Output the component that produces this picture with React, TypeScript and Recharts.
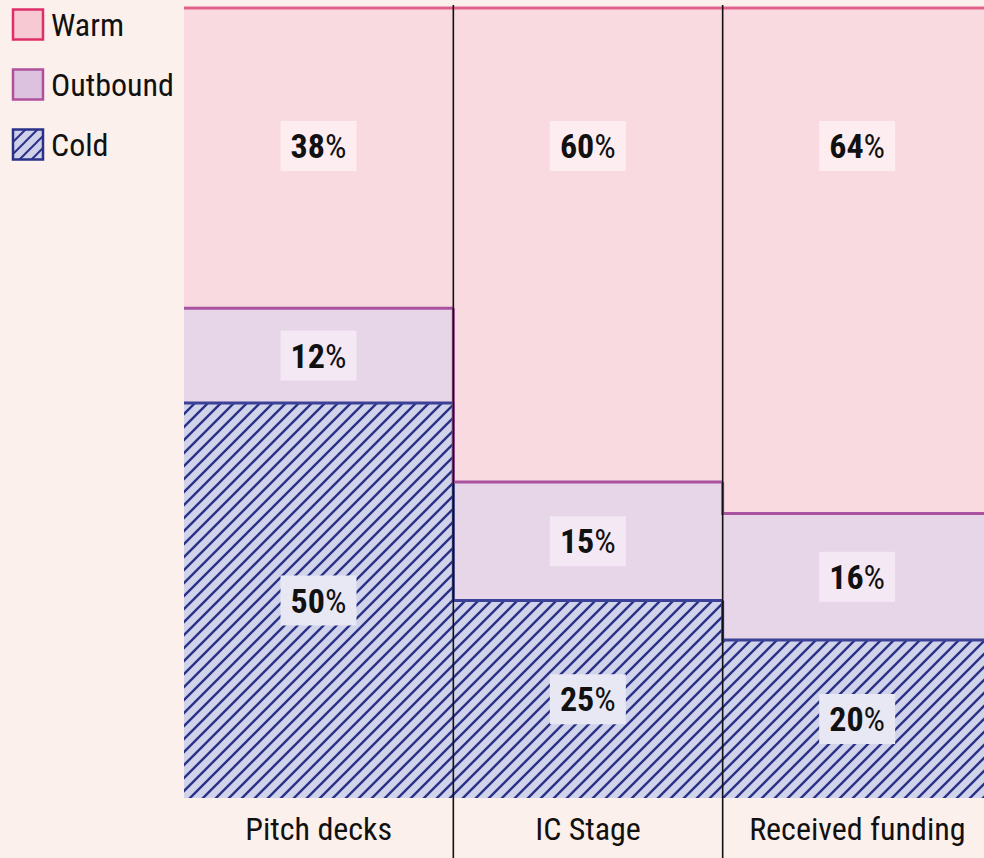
import { Bar, BarChart, LabelList, Legend, XAxis, YAxis } from "recharts";

const categories = ["Pitch decks", "IC Stage", "Received funding"];
const warmValues = [38, 60, 64];
const outboundValues = [12, 15, 16];
const coldValues = [50, 25, 20];

const BG = "#fcf0ec";
const FONT = '"Liberation Sans Narrow", "Roboto Condensed", "Arial Narrow", "Liberation Sans", sans-serif';
const WARM_FILL = "#f9dae0";
const WARM_STROKE = "#e2608c";
const OUT_FILL = "#e7d5e8";
const OUT_STROKE = "#a9529f";
const COLD_STROKE = "#3b4196";
const HATCH_BG = "#d1d3eb";
const HATCH_LINE = "#2a3288";

const data = categories.map((name, i) => ({
  name,
  cold: coldValues[i],
  outbound: outboundValues[i],
  warm: warmValues[i],
}));

function FillShape(props: any) {
  const { x, y, width, height, fill } = props;
  return <rect x={x} y={y} width={width} height={height} fill={fill} />;
}

// warm is drawn last, so it carries every boundary line of its column
function WarmShape(props: any) {
  const { x, y, width, height, index } = props;
  const k = height / warmValues[index];
  const bottom = y + height + (outboundValues[index] + coldValues[index]) * k;
  const outTop = bottom - (outboundValues[index] + coldValues[index]) * k;
  const coldTop = bottom - coldValues[index] * k;
  const prevOutTop =
    index > 0 ? bottom - (outboundValues[index - 1] + coldValues[index - 1]) * k : outTop;
  const prevColdTop = index > 0 ? bottom - coldValues[index - 1] * k : coldTop;
  return (
    <g>
      <rect x={x} y={y} width={width} height={height} fill={WARM_FILL} />
      <line x1={x} x2={x + width} y1={y} y2={y} stroke={WARM_STROKE} strokeWidth={3} />
      <path
        d={`M${x},${prevColdTop} L${x},${coldTop} L${x + width},${coldTop}`}
        fill="none"
        stroke={COLD_STROKE}
        strokeWidth={3}
      />
      <path
        d={`M${x},${prevOutTop} L${x},${outTop} L${x + width},${outTop}`}
        fill="none"
        stroke={OUT_STROKE}
        strokeWidth={3}
      />
      {index > 0 && (
        <line x1={x} x2={x} y1={y - 3} y2={y + 900} stroke="#111" strokeWidth={1.6} />
      )}
    </g>
  );
}

function makeLabel(kind: "warm" | "outbound" | "cold") {
  const boxFill = kind === "warm" ? "#fdedf0" : kind === "outbound" ? "#f4e8f4" : "#e8e8f5";
  return (props: any) => {
    const { x, y, width, height, value } = props;
    const cx = x + width / 2;
    const cy = kind === "warm" ? y + 138 : y + height / 2;
    return (
      <g>
        <rect x={cx - 38} y={cy - 25} width={76} height={50} fill={boxFill} />
        <text
          x={cx}
          y={cy}
          textAnchor="middle"
          dominantBaseline="central"
          fontSize={34}
          fontFamily={FONT}
          fill="#111"
        >
          <tspan fontWeight={700}>{value}</tspan>
          <tspan>%</tspan>
        </text>
      </g>
    );
  };
}

function AxisTick(props: any) {
  const { x, y, payload } = props;
  return (
    <text
      x={x}
      y={y + 31}
      textAnchor="middle"
      dominantBaseline="central"
      fontSize={32}
      fontFamily={FONT}
      fill="#111"
    >
      {payload.value}
    </text>
  );
}

const legendItems = [
  { label: "Warm", fill: "#f7c9d3", stroke: "#de2f6a" },
  { label: "Outbound", fill: "#dcc2de", stroke: "#b0509c" },
  { label: "Cold", fill: "url(#legendHatch)", stroke: HATCH_LINE },
];

function LegendContent() {
  return (
    <svg width={180} height={170} style={{ display: "block" }}>
      {legendItems.map((item, i) => (
        <g key={item.label}>
          <rect
            x={13}
            y={9.5 + i * 60}
            width={30}
            height={30}
            fill={item.fill}
            stroke={item.stroke}
            strokeWidth={2.5}
          />
          <text
            x={51}
            y={25 + i * 60}
            dominantBaseline="central"
            fontSize={32}
            fontFamily={FONT}
            fill="#111"
          >
            {item.label}
          </text>
        </g>
      ))}
    </svg>
  );
}

export default function App() {
  return (
    <div
      style={{
        position: "absolute",
        left: 0,
        top: 0,
        width: 984,
        height: 858,
        overflow: "hidden",
        background: BG,
        fontFamily: FONT,
      }}
    >
      <svg width={0} height={0} style={{ position: "absolute" }}>
        <defs>
          <pattern id="coldHatch" patternUnits="userSpaceOnUse" width={13} height={13}>
            <rect width={13} height={13} fill={HATCH_BG} />
            <path
              d="M-1,1 L1,-1 M0,13 L13,0 M12,14 L14,12"
              stroke={HATCH_LINE}
              strokeWidth={2.4}
            />
          </pattern>
          <pattern id="legendHatch" patternUnits="userSpaceOnUse" width={12} height={12} x={1} y={-2}>
            <rect width={12} height={12} fill="#cfd0ea" />
            <path d="M-1,1 L1,-1 M0,12 L12,0 M11,13 L13,11" stroke={HATCH_LINE} strokeWidth={2} />
          </pattern>
        </defs>
      </svg>
      <BarChart
        width={992}
        height={858}
        data={data}
        margin={{ top: 8, right: 0, left: 184, bottom: 0 }}
        barCategoryGap={0}
        barGap={0}
      >
        <XAxis
          dataKey="name"
          height={60}
          axisLine={false}
          tickLine={false}
          tickSize={0}
          tickMargin={0}
          interval={0}
          tick={<AxisTick />}
        />
        <YAxis hide domain={[0, 100]} />
        <Legend
          layout="horizontal"
          verticalAlign="middle"
          align="center"
          wrapperStyle={{ left: 0, top: 0, width: 180, height: 170 }}
          content={<LegendContent />}
        />
        <Bar
          dataKey="cold"
          stackId="a"
          fill="url(#coldHatch)"
          shape={<FillShape />}
          isAnimationActive={false}
        >
          <LabelList dataKey="cold" content={makeLabel("cold")} />
        </Bar>
        <Bar
          dataKey="outbound"
          stackId="a"
          fill={OUT_FILL}
          shape={<FillShape />}
          isAnimationActive={false}
        >
          <LabelList dataKey="outbound" content={makeLabel("outbound")} />
        </Bar>
        <Bar dataKey="warm" stackId="a" shape={<WarmShape />} isAnimationActive={false}>
          <LabelList dataKey="warm" content={makeLabel("warm")} />
        </Bar>
      </BarChart>
    </div>
  );
}
